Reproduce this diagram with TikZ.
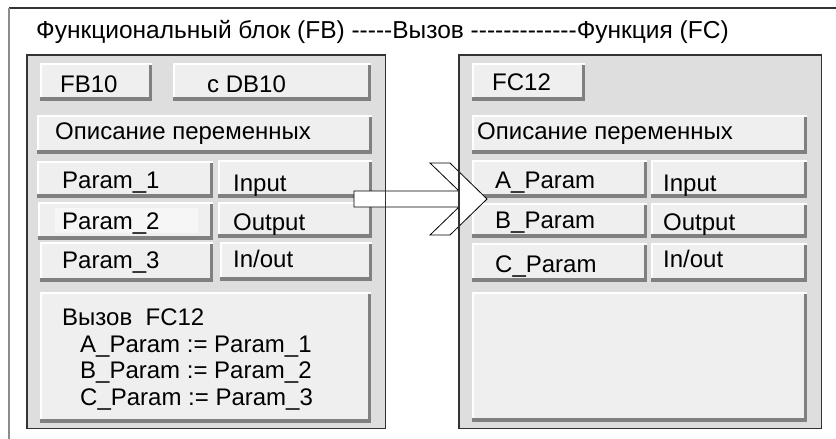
\documentclass[tikz,border=0pt]{standalone}
\usepackage{fontspec}
\setmainfont{Liberation Sans}
\definecolor{panelfill}{HTML}{DEDEDE}
\definecolor{btnfill}{HTML}{EFEFEF}
\definecolor{btnshadow}{HTML}{808080}
\definecolor{paneledge}{HTML}{333333}
\definecolor{framegray}{HTML}{8C8C8C}
\newcommand{\hy}{-{}}
\newcommand{\btnbox}[5]{%
  \node[btn, minimum width={(#4-#2)*1pt}, minimum height={(#5-#3)*1pt}, anchor=north west] (#1) at (#2,#3) {};
  \fill[white] (#1.north west) rectangle ([yshift=-2pt]#1.north east);
  \fill[white] (#1.north west) rectangle ([xshift=2pt]#1.south west);
  \fill[btnshadow] ([yshift=4pt]#1.south west) rectangle (#1.south east);
  \fill[btnshadow] ([xshift=-3pt,yshift=-2pt]#1.north east) rectangle (#1.south east);
}
\begin{document}
\begin{tikzpicture}[x=1pt,y=-1pt,
  btn/.style={fill=btnfill, draw=none, inner sep=0pt, rectangle},
  panel/.style={fill=panelfill, draw=none, inner sep=0pt, rectangle},
  lbl/.style={anchor=base west, inner sep=0pt, font=\fontsize{24}{28}\selectfont},
  ttl/.style={anchor=base west, inner sep=0pt, font=\fontsize{24.5}{28}\selectfont}]
\useasboundingbox (0,0) rectangle (836,439);
\fill[white] (0,0) rectangle (836,439);
% outer frame
\draw[paneledge, line width=1.2pt] (9,8) -- (836,8);
\draw[framegray, line width=1.2pt] (9,8) -- (9,439);
% title
\node[ttl] (title) at (36,38) {Функциональный блок (FB) \hy\hy\hy\hy\hy Вызов \hy\hy\hy\hy\hy\hy\hy\hy\hy\hy\hy\hy\hy Функция (FC)};
% panels
\node[panel, minimum width=358pt, minimum height=373pt, anchor=north west] (lp) at (27,55) {};
\node[panel, minimum width=362pt, minimum height=373pt, anchor=north west] (rp) at (459,55) {};
% left buttons
\btnbox{bfb}{40}{63}{152}{101}
\btnbox{bdb}{173}{63}{371}{101}
\btnbox{bdl}{37}{115}{372}{154}
\btnbox{bp1}{37}{161}{213}{198}
\btnbox{bin}{218}{160}{372}{198}
\btnbox{bp2}{38}{202}{213}{240}
\fill[white!45!btnfill] (55,208) rectangle (198,233);
\btnbox{bout}{218}{202}{372}{238}
\btnbox{bp3}{40}{242}{213}{282}
\btnbox{bio}{220}{242}{372}{281}
\btnbox{bcall}{40}{292}{371}{423}
% right buttons
\btnbox{bfc}{472}{63}{585}{101}
\btnbox{bdr}{472}{115}{807}{154}
\btnbox{ba}{472}{160}{647}{198}
\btnbox{bin2}{651}{160}{807}{198}
\btnbox{bb}{472}{203}{647}{238}
\btnbox{bout2}{651}{203}{807}{238}
\btnbox{bc}{472}{243}{647}{282}
\btnbox{bio2}{651}{243}{807}{282}
\btnbox{bempty}{472}{292}{807}{422}
% arrow
\draw[fill=white, draw=black, line width=0.8pt, line join=miter]
  (354,191) -- (459,191) -- (430,163) -- (450,163) -- (487,199) -- (450,235) -- (430,235) -- (459,207) -- (354,207) -- cycle;
% panel borders
\draw[paneledge, line width=1.2pt] (lp.north west) rectangle (lp.south east);
\draw[paneledge, line width=1.2pt] (rp.north west) rectangle (rp.south east);
% left texts
\node[lbl] (tfb) at (60,92) {FB10};
\node[lbl] (tdb) at (207,92) {c DB10};
\node[lbl] (tdl) at (55,139) {Описание переменных};
\node[lbl] (tp1) at (62,188) {Param\_1};
\node[lbl] (tin) at (233,191) {Input};
\node[lbl] (tp2) at (62,229) {Param\_2};
\node[lbl] (tout) at (233,230) {Output};
\node[lbl] (tp3) at (62,268) {Param\_3};
\node[lbl] (tio) at (233,267) {In/out};
\node[lbl] (tc0) at (62,325) {Вызов\ \ FC12};
\node[lbl] (tc1) at (80,352) {A\_Param := Param\_1};
\node[lbl] (tc2) at (80,378) {B\_Param := Param\_2};
\node[lbl] (tc3) at (80,405) {C\_Param := Param\_3};
% right texts
\node[lbl] (tfc) at (492,90) {FC12};
\node[lbl] (tdr) at (477,139) {Описание переменных};
\node[lbl] (ta) at (495,188) {A\_Param};
\node[lbl] (tin2) at (663,191) {Input};
\node[lbl] (tb) at (495,228) {B\_Param};
\node[lbl] (tout2) at (663,230) {Output};
\node[lbl] (tcp) at (495,272) {C\_Param};
\node[lbl] (tio2) at (663,267) {In/out};
\end{tikzpicture}
\end{document}
